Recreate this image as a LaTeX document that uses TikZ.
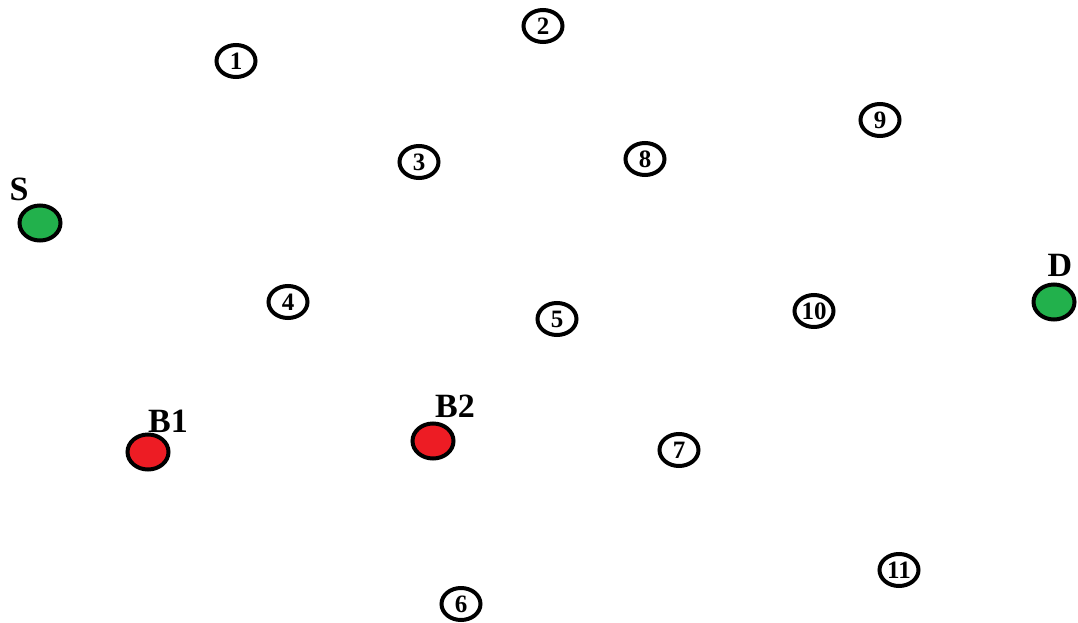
\documentclass[tikz,border=0pt]{standalone}
\usepackage{fontspec}
\setmainfont{Liberation Serif}
\usetikzlibrary{shapes.geometric}
\definecolor{pgreen}{RGB}{34,177,76}
\definecolor{pred}{RGB}{237,28,36}
\tikzset{
  num/.style={ellipse,draw=black,line width=4pt,fill=white,minimum width=39pt,minimum height=32pt,inner sep=0pt,font=\fontsize{25}{25}\selectfont\bfseries},
  term/.style={ellipse,draw=black,line width=4pt,minimum width=41pt,minimum height=35pt,inner sep=0pt},
  tlabel/.style={font=\fontsize{34}{34}\selectfont\bfseries,inner sep=0pt}
}
\begin{document}
\begin{tikzpicture}[x=1pt,y=-1pt]
\useasboundingbox (0,0) rectangle (1078,623);
\node[num] (n1) at (236,61) {1};
\node[num] (n2) at (543,26) {2};
\node[num] (n3) at (419,162) {3};
\node[num] (n8) at (645,159) {8};
\node[num] (n9) at (880,120) {9};
\node[num] (n4) at (288,302) {4};
\node[num] (n5) at (557,319) {5};
\node[num] (n10) at (814,311) {10};
\node[num] (n7) at (679,450) {7};
\node[num] (n11) at (899,570) {11};
\node[num] (n6) at (461,604) {6};
\node[term,fill=pgreen] (S) at (40,223) {};
\node[tlabel] (Sl) at (19,189) {S};
\node[term,fill=pgreen] (D) at (1054,302) {};
\node[tlabel] (Dl) at (1060,265) {D};
\node[term,fill=pred] (B1) at (148,452) {};
\node[tlabel] (B1l) at (168,421) {B1};
\node[term,fill=pred] (B2) at (433,441) {};
\node[tlabel] (B2l) at (455,406) {B2};
\end{tikzpicture}
\end{document}
